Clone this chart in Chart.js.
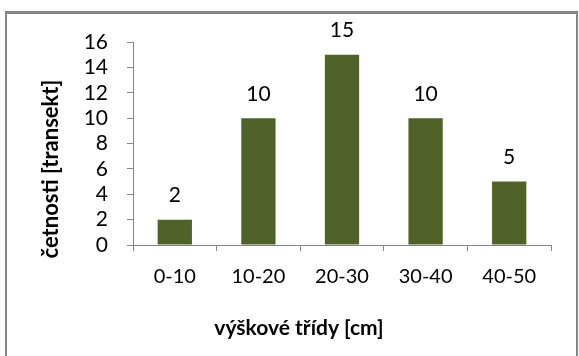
<!DOCTYPE html>
<html>
<head>
<meta charset="utf-8">
<script src="https://cdn.jsdelivr.net/npm/chart.js@4.4.0/dist/chart.umd.min.js"></script>
<style>
	body { margin: 0; background: #fff; }
</style>
</head>
<body>
<canvas id="chart" width="579" height="356"></canvas>
<script>
var categories = ['0-10', '10-20', '20-30', '30-40', '40-50']
var counts = [2, 10, 15, 10, 5]
var yMax = 16
var yStep = 2
var xTitle = 'výškové třídy [cm]'
var yTitle = 'četnosti [transekt]'

var axisGray = '#868686'
var barGreen = '#4F6228'

// frame, value labels and the two axis titles
var extras = {
	id: 'extras',
	beforeDraw: function(chart) {
		var ctx = chart.ctx
		ctx.save()
		ctx.fillStyle = '#fff'
		ctx.fillRect(0, 0, chart.width, chart.height)
		ctx.fillStyle = axisGray
		ctx.fillRect(5, 11, 2, 345)
		ctx.fillRect(5, 11, 573, 3)
		ctx.fillRect(576, 11, 2, 345)
		ctx.restore()
	},
	afterDatasetsDraw: function(chart) {
		var ctx = chart.ctx
		var meta = chart.getDatasetMeta(0)
		ctx.save()
		ctx.fillStyle = '#000'
		ctx.font = '21px Lato'
		ctx.textAlign = 'center'
		ctx.textBaseline = 'middle'
		meta.data.forEach(function(bar, i) {
			ctx.fillText(counts[i], bar.x, bar.y - 24)
		})

		ctx.font = 'bold 21px Lato'
		ctx.fillText(xTitle, 299, 328)

		ctx.font = 'bold 22px Lato'
		ctx.translate(51, 169)
		ctx.rotate(-Math.PI / 2)
		ctx.fillText(yTitle, 0, 0)
		ctx.restore()
	}
}

var ctx = document.getElementById('chart').getContext('2d')
var chart = new Chart(ctx, {
	type: 'bar',
	data: {
		labels: categories,
		datasets: [{
			data: counts,
			backgroundColor: barGreen,
			borderWidth: 0,
			categoryPercentage: 1,
			barPercentage: 0.41
		}]
	},
	options: {
		responsive: false,
		animation: false,
		devicePixelRatio: 1,
		layout: {
			padding: { top: 42, right: 28, left: 0, bottom: 0 }
		},
		plugins: {
			legend: { display: false },
			tooltip: { enabled: false }
		},
		scales: {
			x: {
				afterFit: function(scale) { scale.height = 111 },
				grid: {
					drawOnChartArea: false,
					tickLength: 6,
					color: axisGray
				},
				border: { color: axisGray, width: 1 },
				ticks: {
					color: '#000',
					padding: 14,
					font: { family: 'Lato', size: 20 }
				}
			},
			y: {
				min: 0,
				max: yMax,
				afterFit: function(scale) { scale.width = 133 },
				grid: {
					drawOnChartArea: false,
					tickLength: 6,
					color: axisGray
				},
				border: { color: axisGray, width: 1 },
				ticks: {
					stepSize: yStep,
					autoSkip: false,
					color: '#000',
					padding: 19,
					font: { family: 'Lato', size: 21 }
				}
			}
		}
	},
	plugins: [extras]
})
</script>
</body>
</html>
